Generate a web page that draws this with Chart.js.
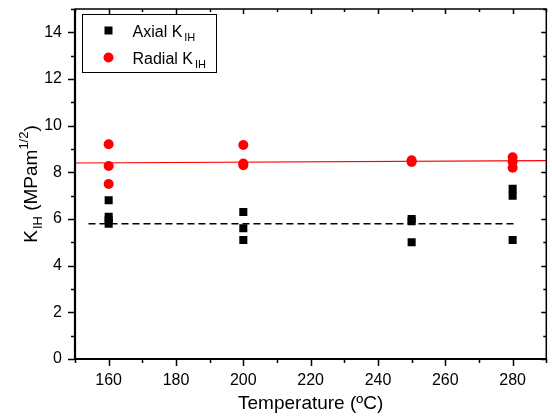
<!DOCTYPE html>
<html>
<head>
<meta charset="utf-8">
<script src="https://cdn.jsdelivr.net/npm/chart.js@4"></script>
<style>
  body { margin: 0; background: #fff; }
  canvas { display: block; }
</style>
</head>
<body>
<canvas id="kih-chart" width="552" height="416"></canvas>
<script>
// values
const axialTemp = [160, 160, 160, 160, 200, 200, 200, 250, 250, 250, 280, 280, 280];
const axialK = [6.8, 6.1, 5.95, 5.8, 6.3, 5.6, 5.1, 6.0, 5.9, 5.0, 7.3, 7.0, 5.1];
const radialTemp = [160, 160, 160, 200, 200, 200, 250, 250, 280, 280, 280];
const radialK = [9.2, 8.27, 7.5, 9.17, 8.38, 8.3, 8.52, 8.44, 8.65, 8.45, 8.2];
// dashed mean of axial, red fit of radial
const axialMeanX = [154, 281];
const axialMeanY = [5.8, 5.8];
const radialFitX = [150, 290];
const radialFitY = [8.40, 8.50];
// axis ticks
const xTickValues = [160, 180, 200, 220, 240, 260, 280];
const yTickValues = [0, 2, 4, 6, 8, 10, 12, 14];

const FONT = "'Liberation Sans', Arial, sans-serif";
const RED = "#ff0000";

function pts(xs, ys) {
    return xs.map((x, i) => ({x: x, y: ys[i]}));
}

// draws text made of pieces: {t, size, shift}
function richWidth(ctx, parts) {
    let w = 0;
    parts.forEach(p => {
        ctx.font = p.size + "px " + FONT;
        w += ctx.measureText(p.t).width + (p.gap || 0);
    });
    return w;
}
function drawRich(ctx, parts, x, y) {
    parts.forEach(p => {
        ctx.font = p.size + "px " + FONT;
        ctx.fillText(p.t, x, y + (p.shift || 0));
        x += ctx.measureText(p.t).width + (p.gap || 0);
    });
}

const framePlugin = {
    id: "frame",
    afterDraw(chart) {
        const ctx = chart.ctx;
        const {left, right, top, bottom} = chart.chartArea;
        const xs = chart.scales.x, ys = chart.scales.y;
        ctx.save();
        ctx.strokeStyle = "#000";
        ctx.fillStyle = "#000";

        // x ticks: bottom outward, top inward
        ctx.lineWidth = 1.5;
        for (let v = xs.min; v <= xs.max; v += 10) {
            const px = Math.round(xs.getPixelForValue(v)) + 0.5;
            const major = v % 20 === 0;
            ctx.beginPath();
            ctx.moveTo(px, bottom);
            ctx.lineTo(px, bottom + (major ? 7 : 4));
            ctx.moveTo(px, top);
            ctx.lineTo(px, top + (major ? 5 : 3));
            ctx.stroke();
        }
        // y ticks: left outward, right inward
        for (let v = ys.min; v <= ys.max; v += 1) {
            const py = Math.round(ys.getPixelForValue(v)) + 0.5;
            const major = v % 2 === 0;
            ctx.beginPath();
            ctx.moveTo(left, py);
            ctx.lineTo(left - (major ? 7 : 4), py);
            ctx.moveTo(right, py);
            ctx.lineTo(right - (major ? 5 : 3), py);
            ctx.stroke();
        }

        // frame
        ctx.lineWidth = 1.5;
        ctx.strokeRect(left, top, right - left, bottom - top);
        ctx.lineWidth = 2.2;
        ctx.beginPath();
        ctx.moveTo(left, top);
        ctx.lineTo(left, bottom);
        ctx.lineTo(right, bottom);
        ctx.stroke();

        // legend box
        const lx = left + 7.5, ly = top + 5.5;
        ctx.lineWidth = 1;
        ctx.strokeRect(lx, ly, 134, 58);
        ctx.fillRect(lx + 22, ly + 12, 8, 8);
        ctx.fillStyle = RED;
        ctx.beginPath();
        ctx.arc(lx + 26, ly + 43, 5, 0, Math.PI * 2);
        ctx.fill();
        ctx.fillStyle = "#000";
        ctx.textBaseline = "alphabetic";
        ctx.textAlign = "left";
        drawRich(ctx, [{t: "Axial K", size: 16, gap: 2}, {t: "IH", size: 11, shift: 4}], lx + 50, ly + 22);
        drawRich(ctx, [{t: "Radial K", size: 16, gap: 2}, {t: "IH", size: 11, shift: 4}], lx + 50, ly + 49);

        // x title
        ctx.font = "19px " + FONT;
        ctx.textAlign = "center";
        ctx.fillText("Temperature (ºC)", (left + right) / 2, 409);

        // y title, rotated
        const yParts = [
            {t: "K", size: 19, gap: 1},
            {t: "IH", size: 13, shift: 5},
            {t: " (MPam", size: 19},
            {t: "1/2", size: 13, shift: -9},
            {t: ")", size: 19}
        ];
        ctx.textAlign = "left";
        const w = richWidth(ctx, yParts);
        ctx.translate(37, (top + bottom) / 2);
        ctx.rotate(-Math.PI / 2);
        drawRich(ctx, yParts, -w / 2, 0);
        ctx.restore();
    }
};

new Chart(document.getElementById("kih-chart"), {
    type: "scatter",
    data: {
        datasets: [
            {
                label: "Axial KIH",
                data: pts(axialTemp, axialK),
                pointStyle: "rect",
                pointRadius: 5.7,
                pointHoverRadius: 5.7,
                backgroundColor: "#000",
                borderWidth: 0,
                order: 0
            },
            {
                label: "Radial KIH",
                data: pts(radialTemp, radialK),
                pointStyle: "circle",
                pointRadius: 5,
                pointHoverRadius: 5,
                backgroundColor: RED,
                borderWidth: 0,
                order: 0
            },
            {
                label: "axial mean",
                data: pts(axialMeanX, axialMeanY),
                showLine: true,
                borderColor: "#000",
                borderWidth: 1.5,
                borderDash: [7, 4],
                pointRadius: 0,
                order: 1
            },
            {
                label: "radial fit",
                data: pts(radialFitX, radialFitY),
                showLine: true,
                borderColor: RED,
                borderWidth: 1.2,
                pointRadius: 0,
                order: 1
            }
        ]
    },
    options: {
        responsive: false,
        animation: false,
        layout: { padding: { top: 9, right: 3, left: 0, bottom: 0 } },
        plugins: {
            legend: { display: false },
            tooltip: { enabled: false }
        },
        scales: {
            x: {
                type: "linear",
                min: 150,
                max: 290,
                grid: { display: false, drawTicks: false },
                border: { display: false },
                afterBuildTicks: (scale) => { scale.ticks = xTickValues.map(v => ({value: v})); },
                afterFit: (scale) => {
                    scale.height = 57;
                    scale.paddingLeft = 0;
                    scale.paddingRight = 0;
                },
                ticks: {
                    padding: 12,
                    color: "#000",
                    font: { family: FONT, size: 16 }
                }
            },
            y: {
                type: "linear",
                min: 0,
                max: 15,
                grid: { display: false, drawTicks: false },
                border: { display: false },
                afterBuildTicks: (scale) => { scale.ticks = yTickValues.map(v => ({value: v})); },
                afterFit: (scale) => {
                    scale.width = 75;
                    scale.paddingTop = 0;
                    scale.paddingBottom = 0;
                },
                ticks: {
                    padding: 13,
                    color: "#000",
                    font: { family: FONT, size: 16 }
                }
            }
        }
    },
    plugins: [framePlugin]
});
</script>
</body>
</html>
